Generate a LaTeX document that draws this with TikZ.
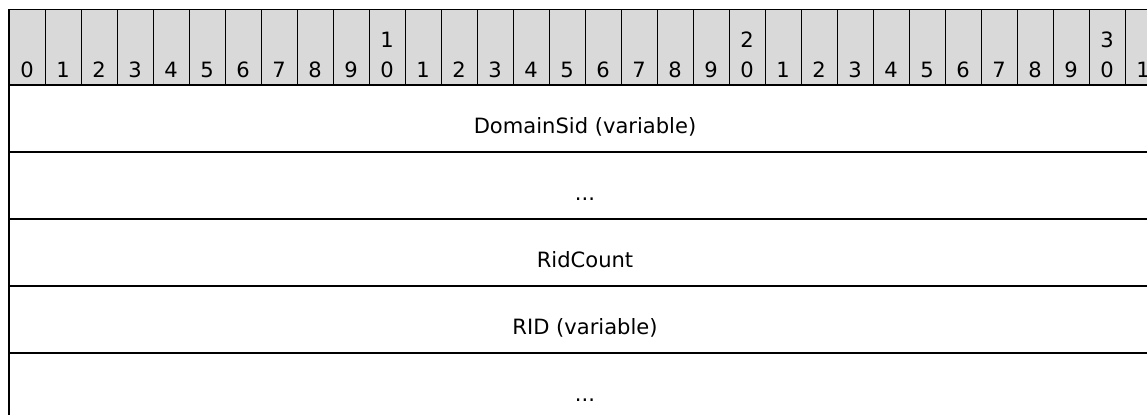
\documentclass[tikz,border=0pt]{standalone}
\usepackage{fontspec}
\setmainfont{DejaVu Sans}
\definecolor{hdrgray}{HTML}{D9D9D9}
\begin{document}
\begin{tikzpicture}[x=0.75pt,y=-0.75pt,
  thinln/.style={line width=0.75pt,black},
  thickln/.style={line width=1.6pt,black},
  bitlabel/.style={inner sep=0pt,anchor=base,font=\fontsize{15.8}{18}\selectfont},
  fieldlabel/.style={inner sep=0pt,anchor=base,font=\fontsize{15.8}{18}\selectfont}]
\useasboundingbox (0,0) rectangle (1147,415);
\fill[white] (0,0) rectangle (1147,415);
% header
\fill[hdrgray] (9,9) rectangle (1147,85);
\draw[thinln] (9,9) -- (1147,9);
\foreach \k in {1,...,31} {
  \draw[thinln] ({9+36*\k},9) -- ({9+36*\k},85);
}
\foreach \k in {0,...,31} {
  \pgfmathtruncatemacro{\d}{mod(\k,10)}
  \pgfmathtruncatemacro{\t}{\k/10}
  \node[bitlabel] (b\k) at ({27+36*\k},77) {\d};
  \ifnum\d=0 \ifnum\t>0
    \node[bitlabel] (t\k) at ({27+36*\k},47) {\t};
  \fi\fi
}
% rows
\draw[thickln] (9,85) -- (1147,85);
\foreach \y in {152,219,286,353} {
  \draw[thickln] (9,\y) -- (1147,\y);
}
\draw[thickln] (9,9) -- (9,415);
% labels
\node[fieldlabel] (domainsid) at (585,133) {DomainSid (variable)};
\node[fieldlabel] (dots1) at (585,200) {...};
\node[fieldlabel] (ridcount) at (585,267) {RidCount};
\node[fieldlabel] (rid) at (585,334) {RID (variable)};
\node[fieldlabel] (dots2) at (585,401) {...};
\end{tikzpicture}
\end{document}
